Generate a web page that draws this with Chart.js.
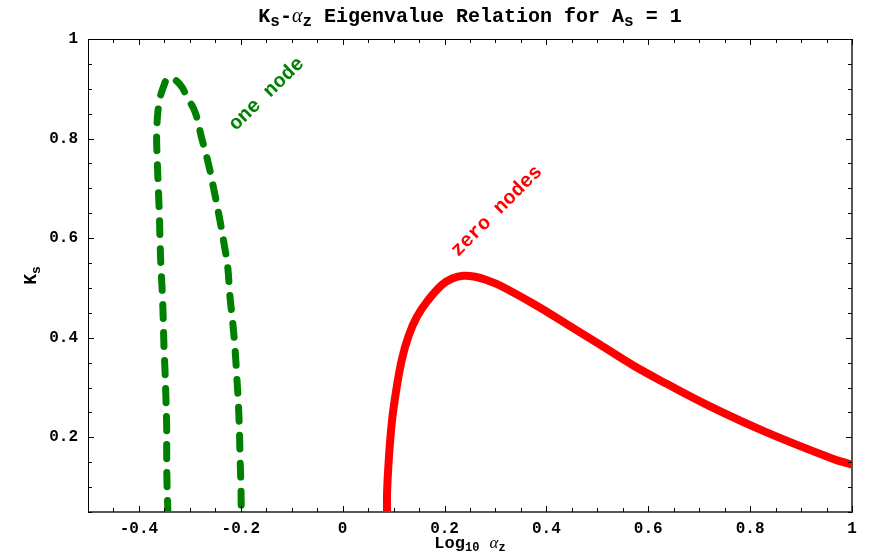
<!DOCTYPE html>
<html>
<head>
<meta charset="utf-8">
<script src="https://cdn.jsdelivr.net/npm/chart.js@4.4.1/dist/chart.umd.min.js"></script>
<style>
  html,body{margin:0;padding:0;background:#fff;}
  #wrap{width:875px;height:555px;}
</style>
</head>
<body>
<div id="wrap"><canvas id="c" width="875" height="555"></canvas></div>
<script>
'use strict';
// one node curve (dashed green)
const oneNodeX = [-0.343,-0.345,-0.3455,-0.3455,-0.3469,-0.3488,-0.3508,-0.3522,-0.3541,-0.3567,-0.3586,-0.36,-0.362,-0.364,-0.3651,-0.3606,-0.3508,-0.342,-0.3311,-0.316,-0.3056,-0.2899,-0.2768,-0.2638,-0.2526,-0.2422,-0.233,-0.2257,-0.2215,-0.2159,-0.2114,-0.208,-0.2049,-0.2029,-0.2016,-0.1996,-0.199];
const oneNodeY = [0.045,0.113,0.167,0.219,0.274,0.334,0.380,0.435,0.489,0.541,0.596,0.650,0.702,0.756,0.811,0.871,0.907,0.9226,0.9195,0.904,0.8833,0.8537,0.8008,0.7505,0.6962,0.6425,0.5896,0.5419,0.485,0.4313,0.3784,0.3241,0.2704,0.22,0.1672,0.0927,0.045];
// zero nodes curve (solid red)
const zeroNodeX = [0.0871,0.0872,0.0904,0.0969,0.1061,0.1165,0.1297,0.1454,0.1662,0.1945,0.215,0.2369,0.26,0.285,0.3089,0.3744,0.4399,0.5053,0.5707,0.6362,0.7213,0.8326,0.9635,1.0];
const zeroNodeY = [0.045,0.09,0.153,0.2336,0.3005,0.3577,0.4045,0.4414,0.4735,0.506,0.519,0.5245,0.5225,0.515,0.505,0.4683,0.4275,0.386,0.3442,0.3074,0.2623,0.21,0.1565,0.145];

const xTicks = [-0.4,-0.2,0,0.2,0.4,0.6,0.8,1];
const xTickLabels = ['-0.4','-0.2','0','0.2','0.4','0.6','0.8','1'];
const yTicks = [0.2,0.4,0.6,0.8,1];
const yTickLabels = ['0.2','0.4','0.6','0.8','1'];
const xRange = [-0.5, 1];
const yRange = [0.05, 1];
const minorStep = 0.05;

const curveLabels = [
  {text:'one node', x:-0.149, y:0.889, color:'#008000', angle:-44},
  {text:'zero nodes', x:0.303, y:0.654, color:'#ff0000', angle:-45}
];

const MONO = '"Liberation Mono", "DejaVu Sans Mono", monospace';

function pts(xs, ys){ return xs.map((x,i)=>({x, y:ys[i]})); }

// draw text with subscripts / italic pieces, centred on x
function drawRich(ctx, parts, x, y, size, subScale){
  const ss = subScale || 0.72;
  const fontOf = p => (p.it ? 'italic ' : 'bold ') + Math.round(p.sub ? size*ss : size) + 'px ' + (p.it ? '"Liberation Serif", serif' : MONO);
  let w = 0;
  parts.forEach(p => { ctx.font = fontOf(p); w += ctx.measureText(p.t).width; });
  let cx = x - w/2;
  ctx.textAlign = 'left';
  ctx.textBaseline = 'alphabetic';
  parts.forEach(p => {
    ctx.font = fontOf(p);
    ctx.fillText(p.t, cx, p.sub ? y + size*0.2 : y);
    cx += ctx.measureText(p.t).width;
  });
}

const decor = {
  id:'decor',
  afterDraw(chart){
    const {ctx, chartArea:a, scales:{x, y}} = chart;
    ctx.save();
    // frame
    ctx.strokeStyle = '#000'; ctx.lineWidth = 1;
    ctx.beginPath();
    ctx.moveTo(a.left+0.5, a.bottom); ctx.lineTo(a.left+0.5, a.top+0.5); ctx.lineTo(a.right, a.top+0.5);
    ctx.stroke();
    ctx.strokeStyle = '#555'; ctx.lineWidth = 2;
    ctx.beginPath();
    ctx.moveTo(a.right, a.top); ctx.lineTo(a.right, a.bottom); ctx.lineTo(a.left, a.bottom);
    ctx.stroke();
    // inward ticks
    ctx.strokeStyle = '#000'; ctx.lineWidth = 1;
    ctx.beginPath();
    for (let v = xRange[0]; v <= xRange[1] + 1e-9; v += minorStep){
      const major = xTicks.some(t => Math.abs(t - v) < 1e-6);
      const len = major ? 6 : 4;
      const px = Math.round(x.getPixelForValue(v)) + 0.5;
      ctx.moveTo(px, a.bottom); ctx.lineTo(px, a.bottom - len);
      ctx.moveTo(px, a.top); ctx.lineTo(px, a.top + len);
    }
    for (let v = yRange[0]; v <= yRange[1] + 1e-9; v += minorStep){
      const major = yTicks.some(t => Math.abs(t - v) < 1e-6);
      const len = major ? 6 : 4;
      const py = Math.round(y.getPixelForValue(v)) + 0.5;
      ctx.moveTo(a.left, py); ctx.lineTo(a.left + len, py);
      ctx.moveTo(a.right, py); ctx.lineTo(a.right - len, py);
    }
    ctx.stroke();

    // title
    ctx.fillStyle = '#000';
    drawRich(ctx, [{t:'K'},{t:'s',sub:true},{t:'-'},{t:'α',it:true},{t:'z',sub:true},{t:' Eigenvalue Relation for A'},{t:'s',sub:true},{t:' = 1'}], (a.left+a.right)/2, 22, 20, 0.8);
    // x axis title
    drawRich(ctx, [{t:'Log'},{t:'10',sub:true},{t:' '},{t:'α',it:true},{t:'z',sub:true}], (a.left+a.right)/2, 548, 17);
    // y axis title, rotated
    ctx.save();
    ctx.translate(36, (a.top+a.bottom)/2);
    ctx.rotate(-Math.PI/2);
    drawRich(ctx, [{t:'K'},{t:'s',sub:true}], 0, 0, 18);
    ctx.restore();

    // curve labels
    curveLabels.forEach(l => {
      ctx.save();
      ctx.translate(x.getPixelForValue(l.x), y.getPixelForValue(l.y));
      ctx.rotate(l.angle*Math.PI/180);
      ctx.fillStyle = l.color;
      ctx.font = 'bold 20px ' + MONO;
      ctx.textAlign = 'center'; ctx.textBaseline = 'middle';
      ctx.fillText(l.text, 0, 0);
      ctx.restore();
    });
    ctx.restore();
  }
};

new Chart(document.getElementById('c'), {
  type:'scatter',
  data:{ datasets:[
    {label:'one node', data:pts(oneNodeX, oneNodeY), showLine:true, borderColor:'#008000', borderWidth:7,
     borderDash:[14,14], borderCapStyle:'round', borderJoinStyle:'round', tension:0.4, pointRadius:0},
    {label:'zero nodes', data:pts(zeroNodeX, zeroNodeY), showLine:true, borderColor:'#ff0000', borderWidth:8,
     borderCapStyle:'butt', borderJoinStyle:'round', tension:0.4, pointRadius:0}
  ]},
  options:{
    responsive:false, animation:false, devicePixelRatio:1,
    layout:{padding:{top:39, right:23, left:0, bottom:0}},
    plugins:{legend:{display:false}, tooltip:{enabled:false}, title:{display:false}},
    scales:{
      x:{type:'linear', min:xRange[0], max:xRange[1],
        grid:{display:false, drawTicks:false}, border:{display:false},
        afterBuildTicks:s => { s.ticks = xTicks.map(v => ({value:v})); },
        afterFit:s => { s.height = 43; },
        ticks:{padding:7, color:'#000', font:{family:MONO, size:16, weight:'bold'}, maxRotation:0,
          callback:(v,i) => xTickLabels[i]}},
      y:{type:'linear', min:yRange[0], max:yRange[1],
        grid:{display:false, drawTicks:false}, border:{display:false},
        afterBuildTicks:s => { s.ticks = yTicks.map(v => ({value:v})); },
        afterFit:s => { s.width = 88; },
        ticks:{padding:10, color:'#000', font:{family:MONO, size:16, weight:'bold'},
          callback:(v,i) => yTickLabels[i]}}
    }
  },
  plugins:[decor]
});
</script>
</body>
</html>
